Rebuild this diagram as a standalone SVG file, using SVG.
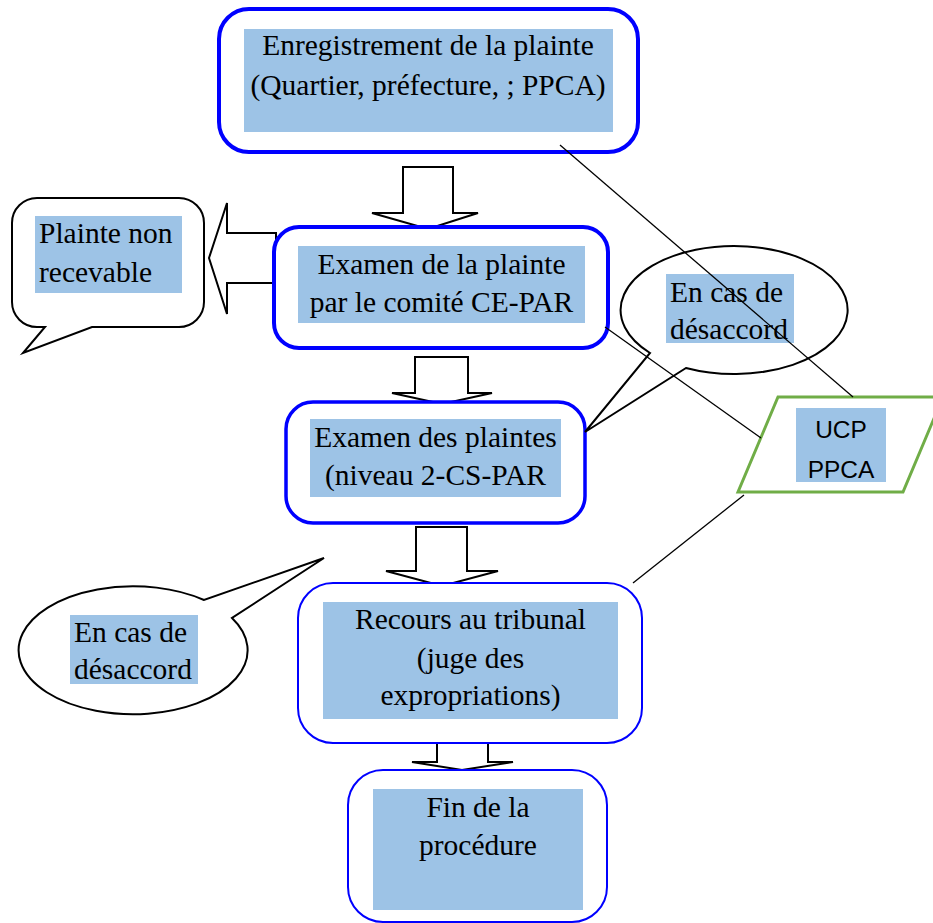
<svg xmlns="http://www.w3.org/2000/svg" width="933" height="923" viewBox="0 0 933 923">
<style>
.box{fill:#fff;stroke:#0000ff}
.hl{fill:#9dc3e6}
.t{font-family:"Liberation Serif","Times New Roman",serif;font-size:29.5px;fill:#000}
.c{text-anchor:middle}
.arr{fill:#fff;stroke:#000;stroke-width:2;stroke-linejoin:miter}
.call{fill:#fff;stroke:#000;stroke-width:2}
.ln{stroke:#000;stroke-width:1.3;fill:none}
.s{font-family:"Liberation Sans",Arial,sans-serif;font-size:24.5px;fill:#000;text-anchor:middle}
</style>
<rect width="933" height="923" fill="#fff"/>
<g id="arrows">
<polygon class="arr" points="403,167 453,167 453,213 478,213 428,229 372,213 403,213"/>
<polygon class="arr" points="415,357 468,357 468,393 492,393 442,404 392,393 415,393"/>
<polygon class="arr" points="416,527 467,527 467,571 498,571 442,586 386,571 416,571"/>
<polygon class="arr" points="437,739 488,739 488,762 513,762 462,770 412,762 437,762"/>
<polygon class="arr" points="276,233 276,283 227,283 227,314 209,258 227,203 227,233"/>
</g>
<g id="n1">
<rect class="box" x="219" y="9" width="419" height="143" rx="30" stroke-width="4"/>
<rect class="hl" x="244" y="29" width="369" height="103"/>
<text class="t c" x="428" y="55">Enregistrement de la plainte</text>
<text class="t c" x="428" y="95">(Quartier, préfecture, ; PPCA)</text>
</g>
<g id="n2">
<rect class="box" x="274" y="227" width="334" height="121" rx="25" stroke-width="4"/>
<rect class="hl" x="298" y="246" width="287" height="77"/>
<text class="t c" x="441.5" y="274">Examen de la plainte</text>
<text class="t c" x="441.5" y="312">par le comité CE-PAR</text>
</g>
<g id="n3">
<rect class="box" x="286" y="402" width="299" height="121" rx="27" stroke-width="3.5"/>
<rect class="hl" x="310" y="419" width="251" height="78"/>
<text class="t c" x="435.5" y="447">Examen des plaintes</text>
<text class="t c" x="435.5" y="485">(niveau 2-CS-PAR</text>
</g>
<g id="n4">
<rect class="box" x="298" y="583" width="344" height="160" rx="35" stroke-width="2"/>
<rect class="hl" x="323" y="602" width="295" height="117"/>
<text class="t c" x="470.5" y="629">Recours au tribunal</text>
<text class="t c" x="470.5" y="668">(juge des</text>
<text class="t c" x="470.5" y="705">expropriations)</text>
</g>
<g id="n5">
<rect class="box" x="348" y="770" width="259" height="152" rx="35" stroke-width="2"/>
<rect class="hl" x="373" y="789" width="210" height="121"/>
<text class="t c" x="478" y="817">Fin de la</text>
<text class="t c" x="478" y="855">procédure</text>
</g>
<g id="callout1">
<path class="call" d="M37,198 H179 A25,25 0 0 1 204,223 V302 A25,25 0 0 1 179,327 H92 L23,353 L45,327 H37 A25,25 0 0 1 12,302 V223 A25,25 0 0 1 37,198 Z"/>
<rect class="hl" x="35" y="216" width="147" height="77"/>
<text class="t" x="39" y="243">Plainte non</text>
<text class="t" x="39" y="282">recevable</text>
</g>
<g id="callout2">
<path class="call" d="M650,353 A113.5,64 0 1 1 686,368 L585,432 Z"/>
<rect class="hl" x="666" y="274" width="128" height="69"/>
<text class="t" x="670" y="302">En cas de</text>
<text class="t" x="670" y="339">désaccord</text>
</g>
<g id="callout3">
<path class="call" d="M232,618 A114.5,64 0 1 1 204,600 L324,558 Z"/>
<rect class="hl" x="70" y="615" width="128" height="69"/>
<text class="t" x="74" y="642">En cas de</text>
<text class="t" x="74" y="679">désaccord</text>
</g>
<g id="ucp">
<polygon points="778,397 943,397 903,492 738,492" fill="#fff" stroke="#70ad47" stroke-width="3"/>
<rect class="hl" x="796" y="408" width="90" height="74"/>
<text class="s" x="841" y="438">UCP</text>
<text class="s" x="841" y="478">PPCA</text>
</g>
<g id="connectors">
<line class="ln" x1="560" y1="145" x2="853" y2="397"/>
<line class="ln" x1="605" y1="327" x2="761" y2="438"/>
<line class="ln" x1="633" y1="583" x2="744" y2="495" stroke-width="2"/>
</g>
</svg>
